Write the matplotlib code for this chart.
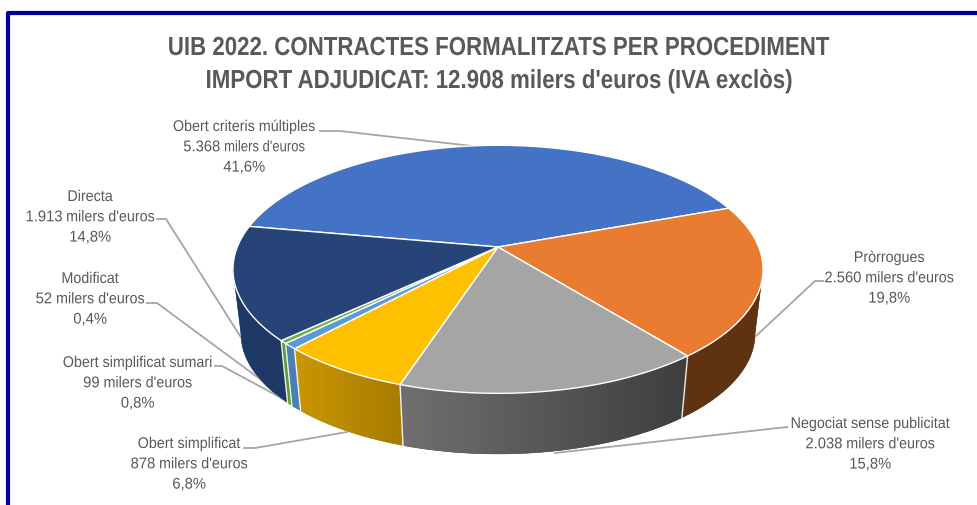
# UIB 2022 contracts pie, perspective 3D look drawn by hand in pixel coords
import numpy as np
import matplotlib
matplotlib.use("Agg")
import matplotlib.pyplot as plt
from matplotlib.colors import LinearSegmentedColormap
from matplotlib.patches import Polygon
from matplotlib.patheffects import AbstractPathEffect
from matplotlib.transforms import Affine2D

plt.rcParams["font.family"] = ["Liberation Sans", "DejaVu Sans"]

categories = ["Obert criteris múltiples", "Pròrrogues", "Negociat sense publicitat",
              "Obert simplificat", "Obert simplificat sumari", "Modificat", "Directa"]
values = [5368, 2560, 2038, 878, 99, 52, 1913]
amount_labels = ["5.368", "2.560", "2.038", "878", "99", "52", "1.913"]
pct_labels = ["41,6%", "19,8%", "15,8%", "6,8%", "0,8%", "0,4%", "14,8%"]
top_colors = ["#4472C4", "#E97C30", "#A5A5A5", "#FFC000", "#5B9BD5", "#70AD47", "#264478"]
side_left = ["#2F5597", "#5F3312", "#707070", "#CB9700", "#4A80B4", "#5E9A3A", "#1F3A68"]
side_right = ["#2F5597", "#5F3312", "#3E3E3E", "#A67B00", "#4A80B4", "#5E9A3A", "#1F3864"]

label_pos = [(244, 127.5), (889, 258.5), (870, 424.5), (189, 444.5), (137.5, 363.5), (90, 279.5), (90, 197.5)]
unit_squeeze = [0.84, 0.92, 0.92, 0.92, 0.92, 0.92, 0.92]  # first label has a smaller unit text
leaders = [
    [(320, 132), (340, 132), (490, 149)],
    [(823, 282), (815, 282), (756, 337)],
    [(787, 428), (555, 454)],
    [(244, 449), (255, 449), (347, 433)],
    [(215, 367), (222, 367), (287, 402)],
    [(147, 304), (157, 304), (287, 400)],
    [(157, 220), (166, 220), (242, 340)],
]

# projection of the disc
CX, CY = 498, 248
RX, RY, P = 260.7, 120.0, 0.18
BOTTOM_K, BOTTOM_Y = 0.97, 313
START_DEG = -79.8
# side wall is only visible between the two tangent angles
SIDE_FROM = np.pi - np.arccos(P)
SIDE_TO = np.pi + np.arccos(P)


def rim(theta, bottom=False):
    x, y = np.sin(theta), np.cos(theta)
    s = 1 / (1 + P * y)
    k = BOTTOM_K if bottom else 1.0
    cy = BOTTOM_Y if bottom else CY
    return CX + k * RX * x * s, cy - k * RY * y * s


class SqueezeX(AbstractPathEffect):
    # the original text is horizontally squeezed, Arial Narrow-ish
    def __init__(self, sx):
        super().__init__()
        self.sx = sx

    def draw_path(self, renderer, gc, tpath, affine, rgbFace=None):
        renderer.draw_path(gc, tpath, Affine2D().scale(self.sx, 1) + affine, rgbFace)


fig = plt.figure(figsize=(9.77, 5.06), dpi=100, facecolor="white")
ax = fig.add_axes([0, 0, 1, 1])
ax.set_xlim(0, 977)
ax.set_ylim(506, 0)
ax.axis("off")
renderer = fig.canvas.get_renderer()


def text_width(txt, size, weight="normal"):
    t = ax.text(0, 0, txt, fontsize=size, fontweight=weight)
    w = t.get_window_extent(renderer).width
    t.remove()
    return w


def squeezed(x, y, txt, size, sx, weight="normal", color="#595959"):
    # x is the left edge
    t = ax.text(x, y, txt, ha="left", va="center", fontsize=size, fontweight=weight,
                color=color, zorder=6)
    t.set_path_effects([SqueezeX(sx)])
    return t


def centered(x, y, txt, size, sx, weight="normal"):
    squeezed(x - text_width(txt, size, weight) * sx / 2, y, txt, size, sx, weight)


# frame
ax.plot([8, 8, 977], [506, 14, 14], color="#0000A0", lw=3, solid_joinstyle="round", zorder=1)

edges = np.radians(START_DEG) + np.concatenate([[0], np.cumsum(values)]) / sum(values) * 2 * np.pi

# sides first, top face covers what should be hidden
for i in range(len(values)):
    a, b = max(edges[i], SIDE_FROM), min(edges[i + 1], SIDE_TO)
    if a >= b:
        continue
    th = np.linspace(a, b, 200)
    tx, ty = rim(th)
    bx, by = rim(th, True)
    poly = Polygon(np.c_[np.r_[tx, bx[::-1]], np.r_[ty, by[::-1]]], closed=True,
                   facecolor=side_right[i], edgecolor=side_right[i], lw=0.3, transform=ax.transData)
    ax.add_patch(poly)
    cmap = LinearSegmentedColormap.from_list("side", [side_left[i], side_right[i]])
    x0, x1 = min(tx.min(), bx.min()), max(tx.max(), bx.max())
    y0, y1 = min(ty.min(), by.min()), max(ty.max(), by.max())
    im = ax.imshow(np.linspace(0, 1, 256)[None, :], cmap=cmap, extent=[x0, x1, y1, y0],
                   aspect="auto", zorder=2, interpolation="bilinear")
    im.set_clip_path(poly)
ax.set_xlim(0, 977)
ax.set_ylim(506, 0)

for e in edges:
    if SIDE_FROM < e < SIDE_TO:
        tx, ty = rim(e)
        bx, by = rim(e, True)
        ax.plot([tx, bx], [ty, by], color="white", lw=1, alpha=0.9, zorder=3)

# top face
for i in range(len(values)):
    th = np.linspace(edges[i], edges[i + 1], 200)
    tx, ty = rim(th)
    ax.fill(np.r_[CX, tx], np.r_[CY, ty], facecolor=top_colors[i], edgecolor="white", lw=1,
            joinstyle="round", zorder=4)

# leader lines
for pts in leaders:
    ax.plot(*zip(*pts), color="#A6A6A6", lw=1.3, zorder=1.5)

# labels
LABEL_SIZE = 11.2
for name, amt, pct, us, (x, y) in zip(categories, amount_labels, pct_labels, unit_squeeze, label_pos):
    centered(x, y, name, LABEL_SIZE, 0.92)
    num_w = text_width(amt, LABEL_SIZE) * 0.95
    unit_w = text_width("milers d'euros", LABEL_SIZE) * us
    left = x - (num_w + 4 + unit_w) / 2
    squeezed(left, y + 20.3, amt, LABEL_SIZE, 0.95)
    squeezed(left + num_w + 4, y + 20.3, "milers d'euros", LABEL_SIZE, us)
    centered(x, y + 40.6, pct, LABEL_SIZE, 0.95)

centered(498.5, 49, "UIB 2022. CONTRACTES FORMALITZATS PER PROCEDIMENT", 18.8, 0.853, "bold")
centered(499, 82, "IMPORT ADJUDICAT: 12.908 milers d'euros (IVA exclòs)", 18.8, 0.853, "bold")

fig.savefig("out.png", dpi=100)
